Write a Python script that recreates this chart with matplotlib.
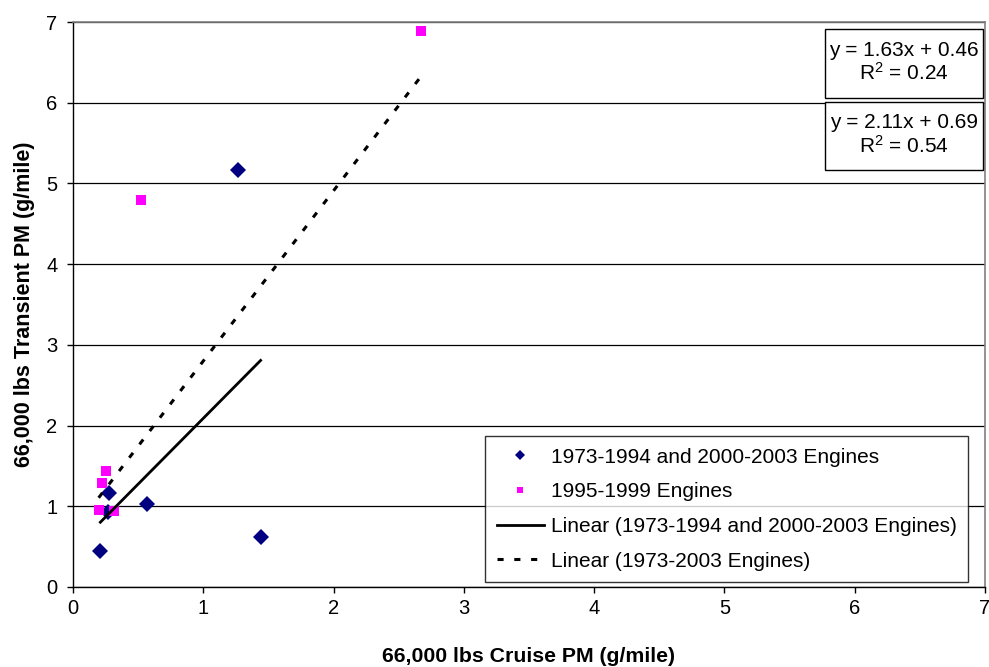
import matplotlib
matplotlib.use("Agg")
import matplotlib.pyplot as plt
from matplotlib.patches import Rectangle
import numpy as np

plt.rcParams['font.family'] = ['Liberation Sans', 'DejaVu Sans']

# Data
navy_x = [1.27, 0.21, 0.28, 0.27, 0.57, 1.44]
navy_y = [5.17, 0.44, 1.16, 0.93, 1.03, 0.62]
pink_x = [2.67, 0.52, 0.25, 0.225, 0.197, 0.317]
pink_y = [6.89, 4.80, 1.44, 1.29, 0.95, 0.945]

fit1_slope, fit1_int, fit1_r2 = 1.63, 0.46, 0.24   # 1973-1994 and 2000-2003
fit2_slope, fit2_int, fit2_r2 = 2.11, 0.69, 0.54   # 1973-2003 (all)

xticks = [0, 1, 2, 3, 4, 5, 6, 7]
yticks = [0, 1, 2, 3, 4, 5, 6, 7]

label_navy = "1973-1994 and 2000-2003 Engines"
label_pink = "1995-1999 Engines"
label_fit1 = "Linear (1973-1994 and 2000-2003 Engines)"
label_fit2 = "Linear (1973-2003 Engines)"

W, H = 989, 667
fig = plt.figure(figsize=(W/100, H/100), dpi=100)
ax = fig.add_axes([73/W, 1-587/H, (985-73)/W, (587-22)/H])

ax.set_xlim(0, 7)
ax.set_ylim(0, 7)
ax.set_xticks(xticks)
ax.set_yticks(yticks)
ax.yaxis.grid(True, color='black', lw=0.9)
ax.set_axisbelow(True)

for s in ['top', 'right']:
    ax.spines[s].set_color('#808080')
    ax.spines[s].set_linewidth(1.2)
for s in ['left', 'bottom']:
    ax.spines[s].set_color('black')
    ax.spines[s].set_linewidth(1.0)

ax.tick_params(direction='out', length=4.3, width=1, labelsize=14.5)
ax.tick_params(axis='x', pad=4)
ax.tick_params(axis='y', pad=7)

ax.plot(navy_x, navy_y, linestyle='none', marker='D', color='#000080', ms=8, mew=0,
        label=label_navy)
ax.plot(pink_x, pink_y, linestyle='none', marker='s', color='#FF00FF', ms=6.5, mew=0,
        label=label_pink)

x1 = np.array([min(navy_x), max(navy_x)])
ax.plot(x1, fit1_slope * x1 + fit1_int, color='black', lw=2, label=label_fit1)
allx = navy_x + pink_x
x2 = np.array([min(allx), max(allx)])
ax.plot(x2, fit2_slope * x2 + fit2_int, color='black', lw=2.2, linestyle=(0, (2, 3.5)),
        label=label_fit2)

ax.set_xlabel("66,000 lbs Cruise PM (g/mile)", fontsize=15.3, fontweight='bold', labelpad=21)
ax.set_ylabel("66,000 lbs Transient PM (g/mile)", fontsize=15.5, fontweight='bold', labelpad=8)

leg = ax.legend(loc='lower right', bbox_to_anchor=(968/W, 1-582/H),
                bbox_transform=fig.transFigure, fontsize=15, frameon=True, fancybox=False,
                edgecolor='black', handlelength=2.3, handletextpad=0.3, borderpad=0.55,
                labelspacing=0.75, markerscale=0.7, borderaxespad=0)
leg.get_frame().set_linewidth(1.0)

# Trendline equation boxes
boxes = [(825, 29, 983, 98, fit1_slope, fit1_int, fit1_r2),
         (825, 102, 983, 170, fit2_slope, fit2_int, fit2_r2)]
for (x0, y0, x1b, y1b, sl, it, r2) in boxes:
    fig.patches.append(Rectangle((x0/W, 1-y1b/H), (x1b-x0)/W, (y1b-y0)/H,
                                 transform=fig.transFigure, fc='white', ec='black', lw=1,
                                 zorder=5))
    cx = (x0 + x1b) / 2
    fig.text(cx/W, 1-(y0+21)/H, f"y = {sl:.2f}x + {it:.2f}", ha='center', va='center',
             fontsize=15, zorder=6)
    fig.text(cx/W, 1-(y0+44)/H, f"$\\mathregular{{R^2}}$ = {r2:.2f}", ha='center', va='center',
             fontsize=15, zorder=6)

fig.savefig("out.png", dpi=100)
